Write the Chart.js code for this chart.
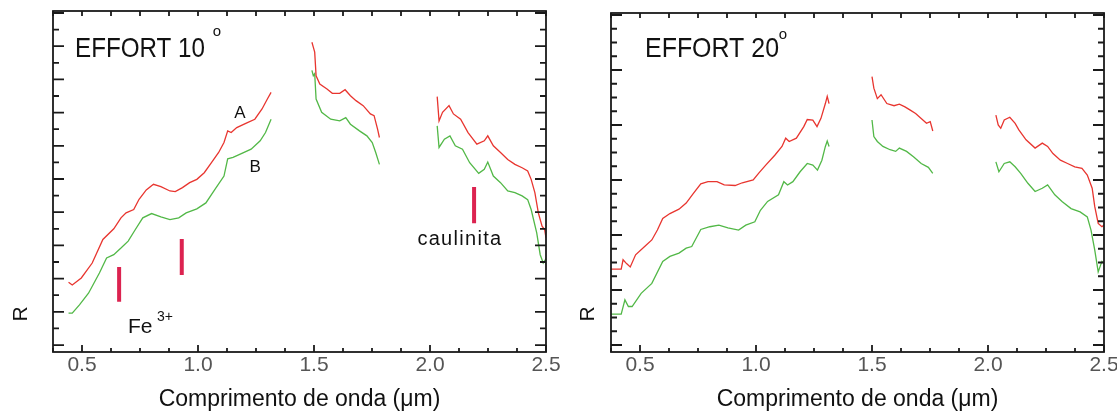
<!DOCTYPE html>
<html><head><meta charset="utf-8">
<script src="https://cdn.jsdelivr.net/npm/chart.js@4.4.0/dist/chart.umd.min.js"></script>
<style>
html,body{margin:0;padding:0;background:#fff;}
#wrap{position:relative;width:1117px;height:414px;overflow:hidden;background:#fff;}
canvas{position:absolute;top:0;}
</style></head><body>
<div id="wrap">
<canvas id="c1" width="560" height="414" style="left:0px"></canvas>
<canvas id="c2" width="557" height="414" style="left:560px"></canvas>
</div>
<script>
// ---------- axis ticks / labels ----------
const xTickValues = [0.375,0.5,0.625,0.75,0.875,1.0,1.125,1.25,1.375,1.5,1.625,1.75,1.875,2.0,2.125,2.25,2.375,2.5];
const xLabelValues = [0.5,1.0,1.5,2.0,2.5];
const xTickLabels = ['0.5','1.0','1.5','2.0','2.5'];
const xTitle = 'Comprimento de onda (\u03bcm)';
const yTitle = 'R';

// ---------- EFFORT 10° : curve A (red) and B (green), [wavelength, R], null = gap ----------
const effort10A = [
 [0.442,1.89],[0.458,1.81],[0.497,2.02],[0.544,2.47],[0.59,3.18],[0.637,3.50],[0.668,3.83],[0.69,3.98],[0.723,4.08],[0.746,4.39],
 [0.777,4.67],[0.808,4.84],[0.84,4.77],[0.879,4.64],[0.902,4.62],[0.933,4.74],[0.964,4.89],[0.995,4.99],[1.027,5.19],[1.058,5.49],
 [1.089,5.80],[1.112,6.10],[1.128,6.45],[1.143,6.40],[1.167,6.55],[1.213,6.70],[1.245,6.80],[1.276,7.11],[1.299,7.41],[1.315,7.61],
 null,
 [1.491,9.12],[1.497,8.97],[1.503,8.82],[1.509,8.11],[1.525,7.86],[1.556,7.71],[1.579,7.58],[1.611,7.58],[1.634,7.69],[1.657,7.51],
 [1.681,7.36],[1.712,7.21],[1.743,6.96],[1.759,6.91],[1.774,6.50],[1.782,6.25],
 null,
 [2.031,7.48],[2.039,6.75],[2.054,7.01],[2.082,7.21],[2.101,6.96],[2.132,6.80],[2.164,6.40],[2.202,6.05],[2.234,6.15],[2.249,6.30],
 [2.273,6.00],[2.304,5.80],[2.335,5.59],[2.366,5.44],[2.397,5.34],[2.421,5.24],[2.436,4.99],[2.452,4.59],[2.467,3.98],[2.483,3.58],
 [2.494,3.48],[2.5,3.23]
];
const effort10B = [
 [0.442,0.96],[0.458,0.96],[0.489,1.21],[0.528,1.56],[0.575,2.17],[0.606,2.62],[0.637,2.72],[0.668,2.92],[0.699,3.13],[0.73,3.48],
 [0.762,3.83],[0.80,3.96],[0.84,3.86],[0.879,3.78],[0.917,3.83],[0.949,3.98],[0.995,4.10],[1.034,4.28],[1.073,4.69],[1.112,5.09],
 [1.128,5.61],[1.151,5.65],[1.182,5.75],[1.229,5.90],[1.268,6.15],[1.291,6.40],[1.315,6.80],
 null,
 [1.491,8.27],[1.497,8.11],[1.503,8.17],[1.509,7.41],[1.533,7.01],[1.572,6.80],[1.611,6.75],[1.637,6.85],[1.657,6.65],[1.696,6.45],
 [1.728,6.30],[1.751,6.10],[1.766,5.80],[1.782,5.44],
 null,
 [2.031,6.60],[2.039,5.95],[2.062,6.20],[2.086,6.30],[2.109,6.00],[2.14,5.90],[2.171,5.49],[2.21,5.17],[2.234,5.29],[2.249,5.51],
 [2.273,5.09],[2.304,4.89],[2.335,4.64],[2.366,4.59],[2.397,4.49],[2.421,4.38],[2.436,4.08],[2.46,3.38],[2.475,2.72],[2.488,2.47],
 [2.499,2.59],[2.5,2.42]
];
// absorption features (Fe3+, Fe3+, caulinita)
const markX  = [0.66, 0.93, 2.19];
const markLo = [1.30, 2.11, 3.67];
const markHi = [2.35, 3.19, 4.76];

// ---------- EFFORT 20° ----------
const effort20A = [
 [0.375,1.38],[0.419,1.38],[0.427,1.55],[0.442,1.48],[0.458,1.42],[0.481,1.64],[0.52,1.79],[0.551,1.91],[0.575,2.09],[0.598,2.30],
 [0.629,2.39],[0.668,2.47],[0.699,2.58],[0.731,2.76],[0.762,2.93],[0.793,2.97],[0.832,2.97],[0.863,2.91],[0.91,2.90],[0.941,2.95],
 [0.988,3.00],[1.011,3.12],[1.042,3.27],[1.081,3.45],[1.112,3.61],[1.128,3.76],[1.143,3.70],[1.174,3.76],[1.206,3.97],[1.221,4.10],
 [1.245,4.09],[1.263,3.97],[1.28,4.12],[1.299,4.39],[1.307,4.52],[1.315,4.39],
 null,
 [1.5,4.88],[1.508,4.67],[1.523,4.48],[1.539,4.55],[1.564,4.39],[1.595,4.35],[1.618,4.38],[1.642,4.33],[1.665,4.27],[1.688,4.21],
 [1.712,4.12],[1.735,4.03],[1.751,4.06],[1.762,3.89],
 null,
 [2.034,4.18],[2.044,4.00],[2.055,3.94],[2.07,4.09],[2.094,4.14],[2.117,4.03],[2.133,3.91],[2.164,3.73],[2.203,3.58],[2.234,3.67],
 [2.257,3.61],[2.28,3.48],[2.312,3.36],[2.343,3.30],[2.374,3.24],[2.405,3.21],[2.428,3.09],[2.449,2.85],[2.46,2.52],[2.475,2.21],
 [2.491,2.15],[2.5,2.18]
];
const effort20B = [
 [0.375,0.56],[0.419,0.56],[0.435,0.82],[0.45,0.70],[0.466,0.70],[0.505,0.94],[0.551,1.12],[0.598,1.52],[0.629,1.61],[0.668,1.67],
 [0.699,1.76],[0.723,1.79],[0.762,2.10],[0.801,2.15],[0.84,2.18],[0.879,2.13],[0.925,2.09],[0.956,2.18],[0.995,2.24],[1.019,2.45],
 [1.05,2.61],[1.097,2.73],[1.12,2.97],[1.136,2.91],[1.159,2.97],[1.19,3.15],[1.221,3.30],[1.245,3.27],[1.265,3.18],[1.284,3.36],
 [1.299,3.61],[1.307,3.71],[1.315,3.61],
 null,
 [1.5,4.09],[1.508,3.79],[1.523,3.70],[1.547,3.61],[1.578,3.55],[1.602,3.52],[1.618,3.58],[1.649,3.52],[1.68,3.42],[1.712,3.30],
 [1.743,3.23],[1.762,3.12],
 null,
 [2.034,3.33],[2.047,3.15],[2.07,3.30],[2.094,3.33],[2.117,3.24],[2.141,3.12],[2.172,2.94],[2.203,2.79],[2.234,2.85],[2.257,2.91],
 [2.288,2.73],[2.319,2.61],[2.358,2.48],[2.397,2.42],[2.428,2.33],[2.444,2.09],[2.46,1.73],[2.475,1.33],[2.491,1.52],[2.5,1.48]
];

// ---------- styles ----------
const RED = '#e8352f', GREEN = '#52b847', MARK = '#dc2350', INK = '#111';
const FONT = "'Liberation Sans', Arial, Helvetica, sans-serif";

function toPts(arr, gapX) {
  return arr.map(p => p === null ? {x: gapX || 1.4, y: null} : {x: p[0], y: p[1]});
}
function markPts() {
  const out = [];
  markX.forEach((x, i) => { out.push({x, y: markLo[i]}, {x, y: markHi[i]}, {x, y: null}); });
  return out;
}

function framePlugin(yMajorStep) {
  return {
    id: 'frame',
    afterDatasetsDraw(chart) {
      const {ctx, chartArea: a} = chart;
      const xs = chart.scales.x, ys = chart.scales.y;
      ctx.save();
      ctx.strokeStyle = '#1a1a1a';
      ctx.lineWidth = 1.8;
      ctx.strokeRect(a.left, a.top, a.right - a.left, a.bottom - a.top);
      ctx.beginPath();
      xs.ticks.forEach(t => {
        const p = xs.getPixelForValue(t.value);
        const major = xLabelValues.some(v => Math.abs(v - t.value) < 1e-6);
        const L = major ? 7 : 4;
        ctx.moveTo(p, a.bottom); ctx.lineTo(p, a.bottom - L);
        ctx.moveTo(p, a.top); ctx.lineTo(p, a.top + 5);
      });
      ys.ticks.forEach(t => {
        const p = ys.getPixelForValue(t.value);
        const r = t.value / yMajorStep;
        const major = Math.abs(r - Math.round(r)) < 1e-6;
        const L = major ? 11 : 6;
        ctx.moveTo(a.left, p); ctx.lineTo(a.left + L, p);
        ctx.moveTo(a.right, p); ctx.lineTo(a.right - L, p);
      });
      ctx.stroke();
      ctx.restore();
    }
  };
}

function notesPlugin(items) {
  return {
    id: 'notes',
    afterDatasetsDraw(chart) {
      const {ctx, chartArea: a, scales: {x, y}} = chart;
      items.forEach(it => {
        ctx.save();
        ctx.font = it.font;
        ctx.fillStyle = it.color || INK;
        ctx.textAlign = it.align || 'left';
        ctx.textBaseline = it.baseline || 'alphabetic';
        try { ctx.letterSpacing = (it.spacing || 0) + 'px'; } catch (e) {}
        let px, py;
        if (it.data) { px = x.getPixelForValue(it.data[0]); py = y.getPixelForValue(it.data[1]); }
        else if (it.abs) { px = it.abs[0]; py = it.abs[1]; }
        else { px = a.left + it.off[0]; py = a.top + it.off[1]; }
        ctx.translate(px, py);
        if (it.rotate) ctx.rotate(it.rotate);
        if (it.width) { const w = ctx.measureText(it.text).width; ctx.scale(it.width / w, 1); }
        ctx.fillText(it.text, 0, 0);
        ctx.restore();
      });
    }
  };
}

function buildChart(id, cfg) {
  const datasets = [
    {data: toPts(cfg.A), borderColor: RED, borderWidth: 1.3, pointRadius: 0, spanGaps: false, tension: 0},
    {data: toPts(cfg.B), borderColor: GREEN, borderWidth: 1.3, pointRadius: 0, spanGaps: false, tension: 0}
  ];
  if (cfg.marks) datasets.push({data: markPts(), borderColor: MARK, borderWidth: 4, borderCapStyle: 'butt', pointRadius: 0, spanGaps: false});
  return new Chart(document.getElementById(id), {
    type: 'line',
    data: {datasets},
    options: {
      responsive: false, animation: false, devicePixelRatio: 1,
      events: [],
      layout: {padding: {left: 0, top: cfg.top, right: cfg.right, bottom: 0}},
      plugins: {legend: {display: false}, tooltip: {enabled: false}},
      scales: {
        x: {
          type: 'linear', min: 0.375, max: 2.5,
          grid: {display: false, drawTicks: false}, border: {display: false},
          afterBuildTicks: s => { s.ticks = xTickValues.map(v => ({value: v})); },
          ticks: {
            autoSkip: false, maxRotation: 0, minRotation: 0, padding: 1, color: '#555',
            font: {family: FONT, size: 21},
            callback: v => { const i = xLabelValues.findIndex(u => Math.abs(u - v) < 1e-6); return i >= 0 ? xTickLabels[i] : ''; }
          },
          title: {display: true, text: xTitle, color: INK, font: {family: FONT, size: 23}, padding: {top: 0, bottom: 1}},
          afterFit: s => { s.height = 62; s.paddingLeft = 0; s.paddingRight = 0; }
        },
        y: {
          type: 'linear', min: cfg.ymin, max: cfg.ymax,
          grid: {display: false, drawTicks: false}, border: {display: false},
          ticks: {display: false, stepSize: cfg.ystep, includeBounds: false},
          afterFit: s => { s.width = cfg.left; s.paddingTop = 0; s.paddingBottom = 0; }
        }
      }
    },
    plugins: [framePlugin(1), notesPlugin(cfg.notes)]
  });
}

buildChart('c1', {
  A: effort10A, B: effort10B, marks: true,
  left: 53, top: 11, right: 14, ymin: -0.21, ymax: 10.06, ystep: 0.5,
  notes: [
    {text: 'EFFORT 10', font: `28px ${FONT}`, off: [22, 46], width: 130},
    {text: 'o', font: `15px ${FONT}`, off: [164, 21], align: 'center', baseline: 'middle'},
    {text: 'A', font: `17px ${FONT}`, data: [1.181, 6.99], align: 'center', baseline: 'middle'},
    {text: 'B', font: `17px ${FONT}`, data: [1.246, 5.36], align: 'center', baseline: 'middle'},
    {text: 'Fe', font: `21px ${FONT}`, data: [0.698, 0.36]},
    {text: '3+', font: `14px ${FONT}`, data: [0.823, 0.72]},
    {text: 'caulinita', font: `20px ${FONT}`, data: [2.129, 3.01], align: 'center', spacing: 1.3},
    {text: yTitle, font: `21px ${FONT}`, abs: [21, 314], rotate: -Math.PI / 2, align: 'center', baseline: 'middle'}
  ]
});

buildChart('c2', {
  A: effort20A, B: effort20B, marks: false,
  left: 51, top: 13, right: 13, ymin: -0.127, ymax: 6.036, ystep: 0.25,
  notes: [
    {text: 'EFFORT 20', font: `28px ${FONT}`, off: [34, 44], width: 134},
    {text: 'o', font: `15px ${FONT}`, off: [172, 22], align: 'center', baseline: 'middle'},
    {text: yTitle, font: `21px ${FONT}`, abs: [28, 314], rotate: -Math.PI / 2, align: 'center', baseline: 'middle'}
  ]
});
</script>
</body></html>
